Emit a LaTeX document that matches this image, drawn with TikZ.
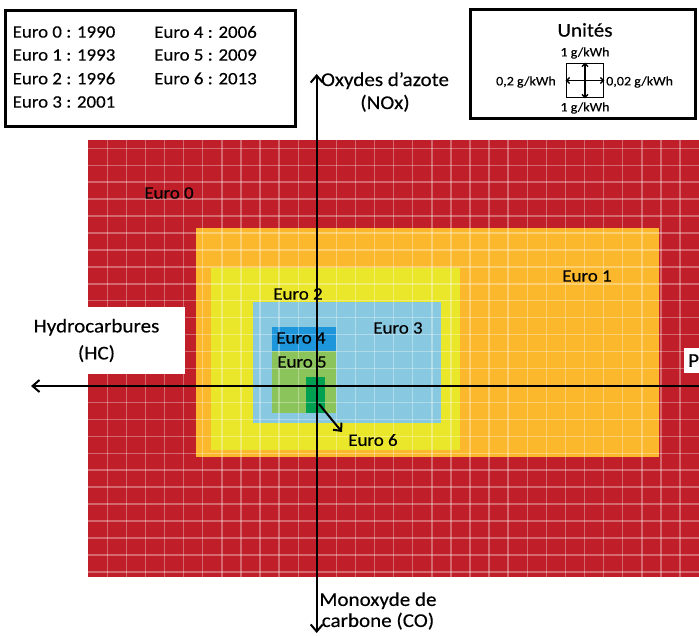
\documentclass[tikz,border=0pt]{standalone}
\usepackage{fontspec}
\setmainfont{Carlito}[FakeStretch=1.08,FakeBold=0.3]
\usetikzlibrary{arrows.meta}
\definecolor{cEzero}{RGB}{192,30,40}
\definecolor{cEone}{RGB}{252,184,44}
\definecolor{cEtwo}{RGB}{234,231,42}
\definecolor{cEthree}{RGB}{136,200,224}
\definecolor{cEfour}{RGB}{30,150,220}
\definecolor{cEfive}{RGB}{140,196,92}
\definecolor{cEsix}{RGB}{0,160,82}
\tikzset{
  gridline/.style={white,opacity=0.33,line width=1.4pt},
  axis/.style={black,line width=2pt,-{Straight Barb[length=7pt,width=12pt,line width=2pt]}},
  lbl/.style={font=\fontsize{17.5}{20}\selectfont,inner sep=0pt},
  axlbl/.style={font=\fontsize{19.5}{22}\selectfont,inner sep=0pt},
  leg/.style={font=\fontsize{17.5}{20}\selectfont,inner sep=0pt},
  small/.style={font=\fontsize{13}{14}\selectfont,inner sep=0pt},
  legendbox/.style={draw=black,line width=3pt,fill=white},
  tinyarrow/.style={black,line width=1.3pt,-{Straight Barb[length=3pt,width=6pt,line width=1.3pt]}}
}
\begin{document}
\begin{tikzpicture}[x=1pt,y=-1pt]
\path[clip,use as bounding box] (0,0) rectangle (699,635);
\fill[white] (0,0) rectangle (699,635);
% emission zones
\fill[cEzero]  (88,140) rectangle (699,577);
\fill[cEone]   (196,228) rectangle (659,457);
\fill[cEtwo]   (211,268) rectangle (460,450);
\fill[cEthree] (253,302) rectangle (441,423);
\fill[cEfour]  (272,327) rectangle (336,351);
\fill[cEfive]  (272,351) rectangle (336,413);
\fill[cEsix]   (306,377) rectangle (325,413);
% grid
\foreach \i in {0,...,30} \draw[gridline] ({107.3+19.09*\i},140) -- ({107.3+19.09*\i},577);
\foreach \j in {0,...,25} \draw[gridline] (88,{148.3+16.94*\j}) -- (699,{148.3+16.94*\j});
% zone labels
\node[lbl] (l0) at (169,193) {Euro 0};
\node[lbl] (l1) at (587,276) {Euro 1};
\node[lbl] (l2) at (298,294) {Euro 2};
\node[lbl] (l3) at (398,328) {Euro 3};
\node[lbl] (l4) at (301,338) {Euro 4};
\node[lbl] (l5) at (302,362) {Euro 5};
\node[lbl] (l6) at (373,440) {Euro 6};
\coordinate (e6) at (319,404);
\coordinate (e6tip) at (342,432);
\draw[black,line width=2pt,-{Straight Barb[length=6pt,width=11pt,line width=2pt]}] (e6) -- (e6tip);
% axes
\coordinate (O) at (316.7,386);
\coordinate (top) at (316.7,74);
\coordinate (bot) at (316.7,633);
\coordinate (left) at (31,386);
\coordinate (right) at (720,386);
\draw[axis] (O) -- (top);
\draw[axis] (O) -- (bot);
\draw[axis] (right) -- (left);
% axis labels
\node[axlbl,fill=white,minimum width=177pt,minimum height=67pt,align=center] (hc) at (96.5,340.5)
  {Hydrocarbures\\[5pt](HC)};
\node[axlbl,fill=white,anchor=west,inner xsep=4pt,minimum height=25pt] (pm) at (684,360.5) {P};
\node[axlbl,align=center] (nox) at (385,92) {Oxydes d'azote\\[1pt](NOx)};
\node[axlbl,align=center] (co) at (378,611) {Monoxyde de\\[-1pt]carbone (CO)};
% legend of years
\draw[legendbox] (5,10) rectangle (295,126);
\node[leg,anchor=west] (y0) at (12.5,32) {Euro 0 : 1990};
\node[leg,anchor=west] (y1) at (12.5,55) {Euro 1 : 1993};
\node[leg,anchor=west] (y2) at (12.5,78.5) {Euro 2 : 1996};
\node[leg,anchor=west] (y3) at (12.5,102) {Euro 3 : 2001};
\node[leg,anchor=west] (y4) at (154,32) {Euro 4 : 2006};
\node[leg,anchor=west] (y5) at (154,55) {Euro 5 : 2009};
\node[leg,anchor=west] (y6) at (154,78.5) {Euro 6 : 2013};
% legend of units
\draw[legendbox] (470,9) rectangle (695,118);
\node[axlbl] (ut) at (585,30) {Unités};
\node[small] (uN) at (585,53) {1 g/kWh};
\node[small] (uS) at (585,108) {1 g/kWh};
\node[small,anchor=east] (uW) at (556,82) {0,2 g/kWh};
\node[small,anchor=west] (uE) at (606,82) {0,02 g/kWh};
\node[draw=black,line width=1.6pt,minimum width=37pt,minimum height=34pt,inner sep=0pt] (sq) at (585,80.5) {};
\coordinate (c) at (sq.center);
\draw[tinyarrow] (c) -- (sq.north);
\draw[tinyarrow] (c) -- (sq.south);
\draw[tinyarrow] (c) -- (sq.west);
\draw[tinyarrow] (c) -- (sq.east);
\end{tikzpicture}
\end{document}
